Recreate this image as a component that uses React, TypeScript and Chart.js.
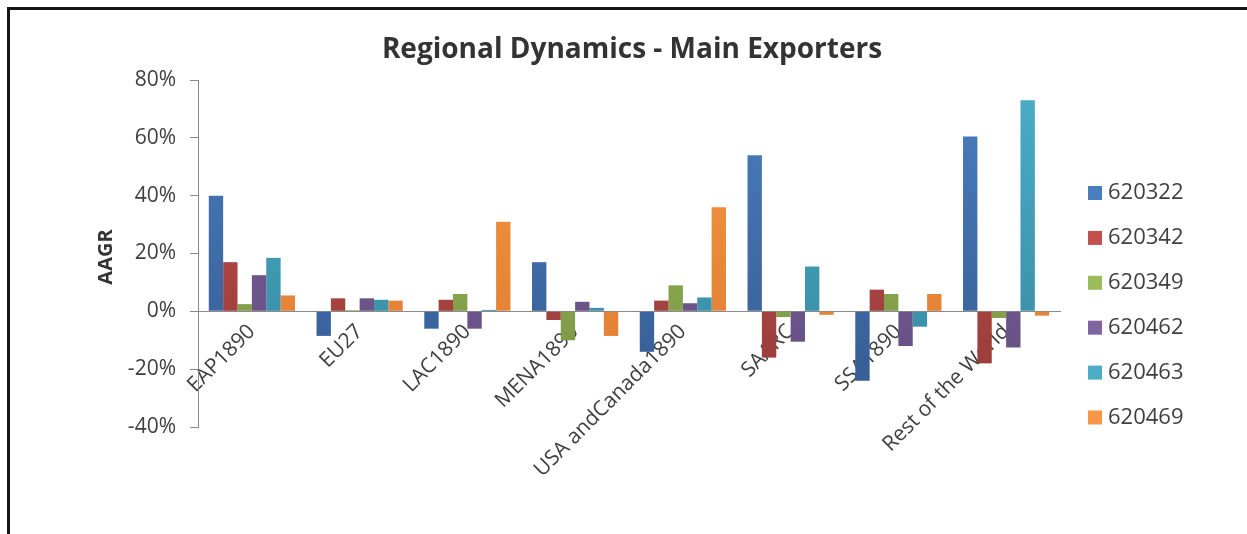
import React, { useEffect, useRef } from 'react';
import { Chart, registerables } from 'chart.js';

Chart.register(...registerables);

const chartTitle = 'Regional Dynamics - Main Exporters';
const yAxisTitle = 'AAGR';
const categories = ['EAP1890', 'EU27', 'LAC1890', 'MENA1890', 'USA andCanada1890', 'SAARC', 'SSA1890', 'Rest of the World'];
const seriesNames = ['620322', '620342', '620349', '620462', '620463', '620469'];
const s620322 = [40, -8.5, -6, 17, -14, 54, -24, 60.5];
const s620342 = [17, 4.5, 4, -3, 3.7, -16, 7.5, -18];
const s620349 = [2.5, 0.4, 6, -10, 9, -2, 6, -2.3];
const s620462 = [12.5, 4.5, -6, 3.3, 2.8, -10.5, -12, -12.5];
const s620463 = [18.5, 4, 0.5, 1.2, 4.8, 15.5, -5.3, 73];
const s620469 = [5.5, 3.7, 31, -8.5, 36, -1.2, 6, -1.5];
const seriesValues = [s620322, s620342, s620349, s620462, s620463, s620469];
const seriesLight = ['#4A7EBF', '#C2504D', '#9CBC59', '#8165A3', '#4BADC7', '#F79646'];
const seriesDark = ['#34598F', '#943A38', '#769143', '#5F4B7C', '#34879E', '#DD7A2E'];
const yMin = -40;
const yMax = 80;
const yStep = 20;

const FONT = '"Open Sans", "DejaVu Sans", sans-serif';

export default function App() {
  const ref = useRef<HTMLCanvasElement>(null);

  useEffect(() => {
    document.body.style.margin = '0';
    const canvas = ref.current;
    if (!canvas) return;

    const decor = {
      id: 'decor',
      afterDraw(chart: any) {
        const ctx = chart.ctx as CanvasRenderingContext2D;
        ctx.save();
        // outer frame
        ctx.fillStyle = '#161616';
        ctx.fillRect(7, 7, 1247 - 7, 3);
        ctx.fillRect(7, 7, 3, 534 - 7);
        // title
        ctx.fillStyle = '#333333';
        ctx.font = `bold 28px ${FONT}`;
        ctx.textAlign = 'center';
        ctx.textBaseline = 'middle';
        ctx.fillText(chartTitle, 632, 50);
        // y-axis title
        ctx.save();
        ctx.translate(106, 257);
        ctx.rotate(-Math.PI / 2);
        ctx.font = `bold 20px ${FONT}`;
        ctx.fillStyle = '#333333';
        ctx.fillText(yAxisTitle, 0, 0);
        ctx.restore();
        // legend
        ctx.font = `22px ${FONT}`;
        ctx.textAlign = 'left';
        ctx.textBaseline = 'middle';
        seriesNames.forEach((name, i) => {
          const cy = 193 + i * 44.9;
          ctx.fillStyle = seriesLight[i];
          ctx.fillRect(1088, cy - 7, 14, 14);
          ctx.fillStyle = '#404040';
          ctx.fillText(name, 1108, cy);
        });
        ctx.restore();
      },
    };

    const chart = new Chart(canvas, {
      type: 'bar',
      data: {
        labels: categories,
        datasets: seriesNames.map((name, i) => ({
          label: name,
          data: seriesValues[i],
          backgroundColor: (c: any) => {
            const area = c.chart.chartArea;
            if (!area) return seriesLight[i];
            const g = c.chart.ctx.createLinearGradient(0, area.top, 0, area.bottom);
            g.addColorStop(0, seriesLight[i]);
            g.addColorStop(1, seriesDark[i]);
            return g;
          },
          borderWidth: 0,
          categoryPercentage: 0.8,
          barPercentage: 1.0,
        })),
      },
      options: {
        responsive: false,
        devicePixelRatio: 1,
        animation: false,
        layout: { padding: { left: 0, top: 80, right: 187, bottom: 107 } },
        plugins: {
          legend: { display: false },
          title: { display: false },
          tooltip: { enabled: false },
        },
        scales: {
          x: {
            position: { y: 0 } as any,
            grid: { display: false, drawTicks: false },
            border: { display: true, color: '#8a8a8a', width: 1 },
            ticks: {
              autoSkip: false,
              minRotation: 45,
              maxRotation: 45,
              padding: 8,
              color: '#404040',
              font: { family: FONT, size: 21 },
            },
          },
          y: {
            min: yMin,
            max: yMax,
            afterFit: (s: any) => {
              s.width = 198;
            },
            ticks: {
              stepSize: yStep,
              padding: 14,
              color: '#404040',
              font: { family: FONT, size: 21 },
              callback: (v: any) => `${v}%`,
            },
            grid: { drawOnChartArea: false, drawTicks: true, tickLength: 8, color: '#8a8a8a' },
            border: { display: true, color: '#8a8a8a', width: 1 },
          },
        },
      },
      plugins: [decor],
    } as any);

    return () => chart.destroy();
  }, []);

  return (
    <div style={{ width: 1247, height: 534, position: 'relative', background: '#ffffff' }}>
      <canvas ref={ref} width={1247} height={534} style={{ display: 'block' }} />
    </div>
  );
}
